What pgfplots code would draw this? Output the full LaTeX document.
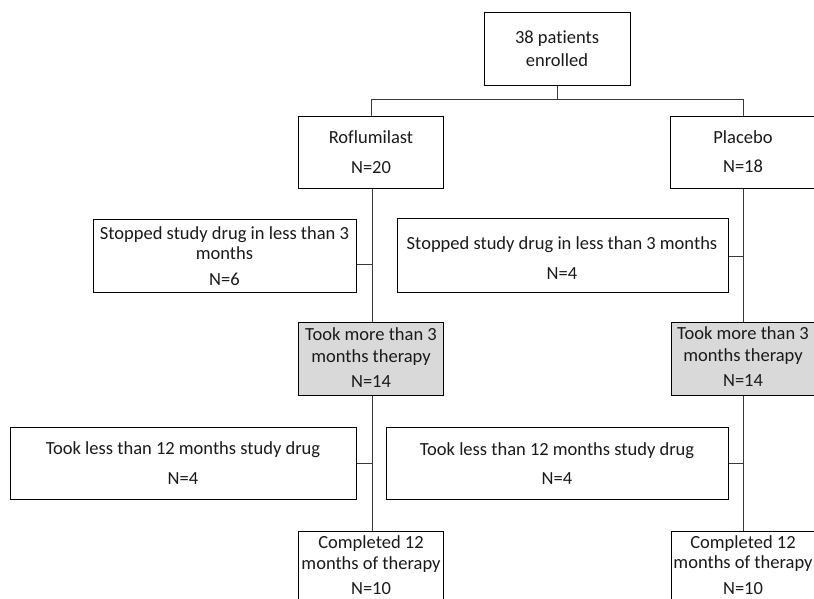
\documentclass[border=0pt]{standalone}
\usepackage{pgfplots}
\pgfplotsset{compat=1.18}
\usepackage{fontspec}
\setmainfont{Carlito}[Ligatures={NoCommon}]
\definecolor{boxgray}{HTML}{D9D9D9}
\definecolor{txt}{HTML}{1A1A1A}
\definecolor{lin}{HTML}{3A3A3A}
\begin{document}
\begin{tikzpicture}
\begin{axis}[
  scale only axis, width=814pt, height=599pt,
  xmin=0, xmax=814, ymin=0, ymax=599, y dir=reverse,
  hide axis, clip=true,
]
% connector lines
\addplot[lin, line width=1pt] coordinates {(557,85) (557,100)};
\addplot[lin, line width=1pt] coordinates {(371,116) (371,100) (743,100) (743,116)};
\addplot[lin, line width=1pt] coordinates {(372,188) (372,322)};
\addplot[lin, line width=1pt] coordinates {(372,395) (372,531)};
\addplot[lin, line width=1pt] coordinates {(356,264) (372,264)};
\addplot[lin, line width=1pt] coordinates {(356,463) (372,463)};
\addplot[lin, line width=1pt] coordinates {(743,188) (743,322)};
\addplot[lin, line width=1pt] coordinates {(743,395) (743,531)};
\addplot[lin, line width=1pt] coordinates {(728,256) (743,256)};
\addplot[lin, line width=1pt] coordinates {(728,463) (743,463)};
% boxes
\addplot[black, line width=0.9pt, fill=white, line join=miter] coordinates {(484,12) (630,12) (630,85) (484,85) (484,12)};
\addplot[black, line width=0.9pt, fill=white, line join=miter] coordinates {(298,116) (443,116) (443,188) (298,188) (298,116)};
\addplot[black, line width=0.9pt, fill=white, line join=miter] coordinates {(670,116) (816,116) (816,188) (670,188) (670,116)};
\addplot[black, line width=0.9pt, fill=white, line join=miter] coordinates {(93,219) (356,219) (356,292) (93,292) (93,219)};
\addplot[black, line width=0.9pt, fill=white, line join=miter] coordinates {(397,218) (728,218) (728,292) (397,292) (397,218)};
\addplot[black, line width=0.9pt, fill=boxgray, line join=miter] coordinates {(298,322) (443,322) (443,395) (298,395) (298,322)};
\addplot[black, line width=0.9pt, fill=boxgray, line join=miter] coordinates {(671,322) (816,322) (816,395) (671,395) (671,322)};
\addplot[black, line width=0.9pt, fill=white, line join=miter] coordinates {(10,427) (356,427) (356,499) (10,499) (10,427)};
\addplot[black, line width=0.9pt, fill=white, line join=miter] coordinates {(386,427) (728,427) (728,499) (386,499) (386,427)};
\addplot[black, line width=0.9pt, fill=white, line join=miter] coordinates {(298,531) (443,531) (443,602) (298,602) (298,531)};
\addplot[black, line width=0.9pt, fill=white, line join=miter] coordinates {(671,531) (816,531) (816,602) (671,602) (671,531)};
% texts
\begin{scope}[every node/.style={text=txt, font=\fontsize{18.5}{21}\selectfont, inner sep=0pt, text height=12pt, text depth=3pt, yshift=-2.5pt}]
\node at (axis cs:557,37) {38 patients};
\node at (axis cs:557,60) {enrolled};
\node at (axis cs:371,137) {Roflumilast};
\node at (axis cs:371,166) {N=20};
\node at (axis cs:743,137) {Placebo};
\node at (axis cs:743,165) {N=18};
\node at (axis cs:224.5,232) {Stopped study drug in less than 3};
\node at (axis cs:224.5,252) {months};
\node at (axis cs:224.5,278) {N=6};
\node at (axis cs:562,242) {Stopped study drug in less than 3 months};
\node at (axis cs:562,272) {N=4};
\node at (axis cs:371,333) {Took more than 3};
\node at (axis cs:371,355) {months therapy};
\node at (axis cs:371,380) {N=14};
\node at (axis cs:743,332) {Took more than 3};
\node at (axis cs:743,354) {months therapy};
\node at (axis cs:743,379) {N=14};
\node at (axis cs:183,447) {Took less than 12 months study drug};
\node at (axis cs:183,477) {N=4};
\node at (axis cs:557,448) {Took less than 12 months study drug};
\node at (axis cs:557,477) {N=4};
\node at (axis cs:371,541) {Completed 12};
\node at (axis cs:371,562) {months of therapy};
\node at (axis cs:371,587) {N=10};
\node at (axis cs:743,541) {Completed 12};
\node at (axis cs:743,561) {months of therapy};
\node at (axis cs:743,587) {N=10};
\end{scope}
\end{axis}
\pgfresetboundingbox
\path (0,0) rectangle (814pt,599pt);
\end{tikzpicture}
\end{document}
